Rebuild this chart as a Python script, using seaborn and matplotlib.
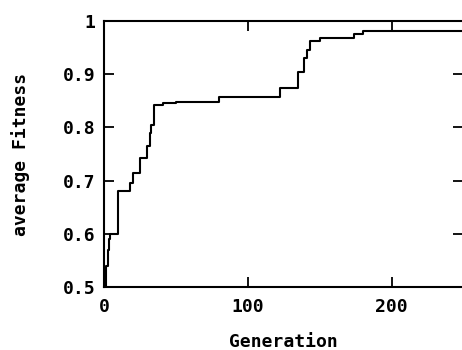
import matplotlib
matplotlib.use("Agg")
import matplotlib.pyplot as plt
import seaborn as sns
import pandas as pd

generation = [0, 1.5, 2.5, 3.5, 4.5, 10, 18, 20, 25, 30, 32, 33, 35, 41, 50, 80,
              122, 135, 139, 141, 143, 150, 174, 180, 250]
fitness = [0.50, 0.54, 0.57, 0.59, 0.60, 0.68, 0.695, 0.714, 0.742, 0.765, 0.79,
           0.804, 0.842, 0.845, 0.848, 0.857, 0.874, 0.904, 0.93, 0.945, 0.962,
           0.968, 0.975, 0.981, 0.981]
xticks = [0, 100, 200]
xticklabels = ["0", "100", "200"]
yticks = [0.5, 0.6, 0.7, 0.8, 0.9, 1.0]
yticklabels = ["0.5", "0.6", "0.7", "0.8", "0.9", "1"]

sns.set_theme(style="ticks")
plt.rcParams['font.family'] = ['DejaVu Sans Mono', 'DejaVu Sans']
plt.rcParams['font.weight'] = 'bold'

df = pd.DataFrame({"Generation": generation, "average Fitness": fitness})

fig = plt.figure(figsize=(4.62, 3.5), dpi=100)
ax = fig.add_axes([104/462, 1 - 287/350, 359/462, (287 - 21)/350])
sns.lineplot(data=df, x="Generation", y="average Fitness", ax=ax,
             drawstyle="steps-post", color="black", linewidth=1.5)

ax.set_xlim(0, 249.5)
ax.set_ylim(0.5, 1.0)
ax.set_xticks(xticks)
ax.set_xticklabels(xticklabels)
ax.set_yticks(yticks)
ax.set_yticklabels(yticklabels)
ax.tick_params(direction="in", length=7, width=1.3, top=True, right=True,
               labelsize=13, colors="black")
ax.tick_params(axis="x", pad=8)
ax.tick_params(axis="y", pad=6)
for s in ax.spines.values():
    s.set_visible(True)
    s.set_linewidth(1.5)
    s.set_color("black")

ax.set_xlabel("Generation", fontsize=13, fontweight="bold", labelpad=12,
              color="black")
ax.set_ylabel("average Fitness", fontsize=13, fontweight="bold", labelpad=24,
              color="black")

fig.savefig("out.png", dpi=100, facecolor="white")
